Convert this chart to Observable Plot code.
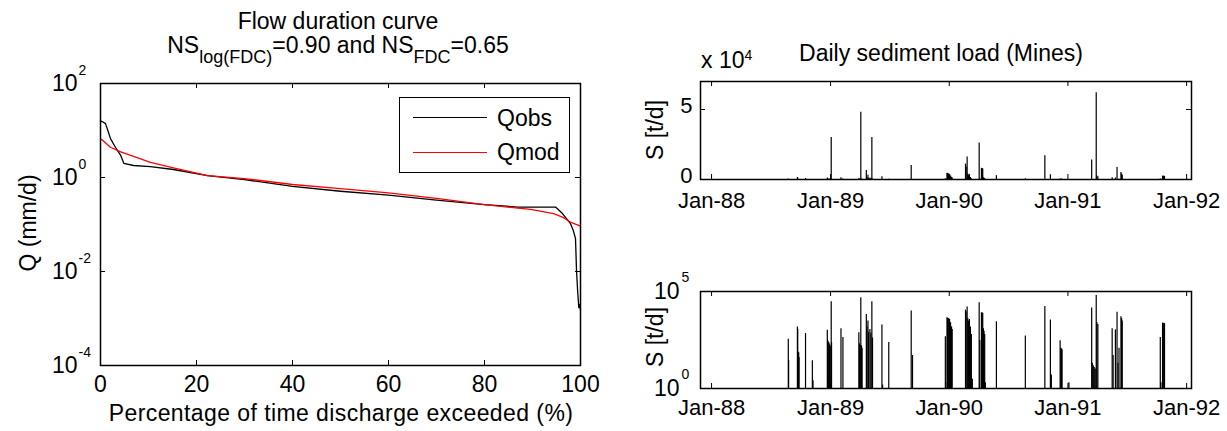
<!DOCTYPE html>
<html>
<head>
<meta charset="utf-8">
<script src="https://cdn.jsdelivr.net/npm/d3@7"></script>
<script src="https://cdn.jsdelivr.net/npm/@observablehq/plot@0.6"></script>
<style>
  body { margin: 0; background: #fff; }
  #wrap { position: relative; width: 1227px; height: 431px; overflow: hidden;
          font-family: "Liberation Sans", Arial, Helvetica, sans-serif; color: #000; background: #fff; }
  .t { position: absolute; white-space: nowrap; font-size: 23px; line-height: 23px; }
  .c { transform: translateX(-50%); }
  .rot { transform: translate(-50%, -50%) rotate(-90deg); }
  .sub { font-size: 18px; position: relative; top: 10px; }
  .sup { font-size: 14px; position: relative; top: -8px; }
  #legend { position: absolute; left: 399px; top: 97px; width: 169px; height: 74px;
            border: 1.5px solid #000; background: #fff; }
  .lg-line { position: absolute; left: 13px; width: 74px; height: 0; }
  .svgabs { position: absolute; }
</style>
</head>
<body>
<div id="wrap"></div>
<script>
// ---------------- Flow duration curve data ----------------
const fdcObsPct = [0, 0.35, 1.04, 1.6, 2.08, 3.1, 4.2, 4.85, 6.9, 10.4, 15.2, 22.3, 30, 40, 50, 60, 70, 80, 87, 94.8, 96.25, 97.9, 98.5, 98.96, 99.17, 99.4, 99.65, 99.8, 100];
const fdcObsQ   = [16, 15.5, 14, 9.5, 6.7, 4.4, 2.96, 2.0, 1.8, 1.71, 1.48, 1.1, 0.9, 0.65, 0.51, 0.42, 0.33, 0.265, 0.235, 0.235, 0.171, 0.105, 0.0745, 0.05, 0.0105, 0.0039, 0.0017, 0.002, 0.0015];
const fdcModPct = [0, 0.35, 2.08, 4.2, 6.9, 10.4, 15.2, 22.3, 30, 40, 50, 60, 70, 80, 87.5, 89.6, 94.4, 96.5, 97.9, 100];
const fdcModQ   = [6.6, 6.3, 4.4, 3.5, 2.8, 2.1, 1.6, 1.1, 0.95, 0.71, 0.58, 0.47, 0.36, 0.265, 0.22, 0.21, 0.17, 0.14, 0.112, 0.092];
const fdcXTicks = [0, 20, 40, 60, 80, 100];
const fdcYTicks = [1e2, 1e0, 1e-2, 1e-4];

// ---------------- Daily sediment load data (Mines) ----------------
const sedDates = [
  "1988-08-24","1988-08-25","1988-09-21","1988-09-22","1988-09-23","1988-09-24","1988-09-25","1988-09-26",
  "1988-10-16","1988-11-06","1988-11-08","1988-12-22","1988-12-23","1988-12-25","1988-12-27","1988-12-29",
  "1988-12-31","1989-01-03","1989-01-04","1989-02-02","1989-02-08","1989-03-29","1989-03-31","1989-04-02",
  "1989-04-04","1989-04-06","1989-04-08","1989-04-21","1989-04-23","1989-04-26","1989-04-28","1989-05-02",
  "1989-05-05","1989-05-08","1989-05-10","1989-06-08","1989-06-10","1989-06-29","1989-09-06","1989-09-10",
  "1989-12-20","1989-12-21","1989-12-25","1989-12-27","1989-12-29","1989-12-31","1990-01-02","1990-01-05",
  "1990-01-08","1990-01-10","1990-02-20","1990-02-22","1990-02-25","1990-02-27","1990-03-01","1990-03-04",
  "1990-03-07","1990-03-10","1990-03-13","1990-04-03","1990-04-05","1990-04-10","1990-04-12","1990-04-14",
  "1990-04-16","1990-04-18","1990-04-20","1990-04-22","1990-05-26","1990-08-23","1990-10-22","1990-11-08",
  "1990-11-11","1990-12-08","1990-12-10","1990-12-12","1990-12-14","1991-01-04","1991-03-15","1991-03-17",
  "1991-03-20","1991-03-23","1991-03-26","1991-03-29","1991-03-31","1991-04-03","1991-05-17","1991-05-20",
  "1991-05-27","1991-06-01","1991-06-04","1991-06-07","1991-06-13","1991-06-15","1991-06-17","1991-10-12",
  "1991-10-14","1991-10-19","1991-10-21","1991-10-23","1991-10-25"
];
const sedLoads = [
  350, 28, 1500, 1100, 75, 60, 70, 40,
  680, 27, 2.5, 1000, 300, 250, 220, 180,
  150, 30000, 230, 1200, 430, 750, 200, 160,
  48000, 160, 120, 6500, 1500, 3000, 800, 1100,
  700, 30000, 400, 1900, 1.5, 235, 10000, 50,
  460, 2, 4400, 4200, 4000, 3800, 3600, 2500,
  1500, 1100, 11000, 9000, 16000, 4000, 3000, 3600,
  1500, 600, 3, 26000, 300, 8000, 7800, 7500,
  1200, 900, 600, 2, 2750, 510, 17000, 3400,
  5, 290, 120, 110, 100, 2, 14000, 20,
  15, 12, 10, 62000, 2500, 2000, 1200, 50,
  1050, 8500, 20, 120, 5000, 4000, 3000, 430,
  2, 2350, 2300, 2250, 2200
];
const sedXDomain = ["1987-11-28", "1992-01-16"];
const yearTicks = ["1988-01-01", "1989-01-01", "1990-01-01", "1991-01-01", "1992-01-01"];
const linYTicks = [0, 50000];
const logYTicks = [1, 1e5];

// ---------------- helpers ----------------
const wrap = document.getElementById("wrap");
const FONT = '"Liberation Sans", Arial, Helvetica, sans-serif';
function addText(html, cls, left, top, extraStyle) {
  const d = document.createElement("div");
  d.className = "t " + cls;
  d.style.left = left + "px";
  d.style.top = top + "px";
  if (extraStyle) d.style.cssText += extraStyle;
  d.innerHTML = html;
  wrap.appendChild(d);
  return d;
}
function place(svg, left, top) {
  svg.classList.add("svgabs");
  svg.style.left = left + "px";
  svg.style.top = top + "px";
  wrap.appendChild(svg);
}
function inwardTicks(xTicks, yTicks, xAcc, yAcc, pw, ph, len) {
  return [
    Plot.tickX(xTicks, {x: xAcc, insetTop: ph - len, stroke: "#000", strokeWidth: 1}),
    Plot.tickX(xTicks, {x: xAcc, insetBottom: ph - len, stroke: "#000", strokeWidth: 1}),
    Plot.tickY(yTicks, {y: yAcc, insetRight: pw - len, stroke: "#000", strokeWidth: 1}),
    Plot.tickY(yTicks, {y: yAcc, insetLeft: pw - len, stroke: "#000", strokeWidth: 1})
  ];
}

// ---------------- Left: flow duration curve ----------------
const obs = fdcObsPct.map((p, i) => ({p, q: fdcObsQ[i]}));
const mod = fdcModPct.map((p, i) => ({p, q: fdcModQ[i]}));
{
  const W = 620, H = 431, mL = 100, mR = 40, mT = 83, mB = 66;
  const pw = W - mL - mR, ph = H - mT - mB;
  const svg = Plot.plot({
    width: W, height: H, marginLeft: mL, marginRight: mR, marginTop: mT, marginBottom: mB,
    style: {fontFamily: FONT, fontSize: "23px", color: "#000", background: "transparent", overflow: "visible"},
    x: {domain: [0, 100]},
    y: {type: "log", domain: [1e-4, 1e2]},
    marks: [
      Plot.line(obs, {x: "p", y: "q", stroke: "#000", strokeWidth: 1.3}),
      Plot.line(mod, {x: "p", y: "q", stroke: "#ff0000", strokeWidth: 1.3}),
      ...inwardTicks(fdcXTicks, fdcYTicks, d => d, d => d, pw, ph, 5),
      Plot.frame({stroke: "#000", strokeWidth: 1.5}),
      Plot.axisX({ticks: fdcXTicks, tickSize: 0, tickPadding: 10, label: null, fontSize: 23}),
      Plot.axisY({ticks: fdcYTicks, tickFormat: () => "10", tickSize: 0, tickPadding: 23, label: null, fontSize: 23}),
      Plot.text(fdcYTicks, {y: d => d, frameAnchor: "left", text: d => String(Math.round(Math.log10(d))),
        dx: -22, dy: -13, textAnchor: "start", fontSize: 14})
    ]
  });
  place(svg, 0, 0);
}
addText("Flow duration curve", "c", 338, 9.5);
addText('NS<span class="sub">log(FDC)</span>=0.90 and NS<span class="sub">FDC</span>=0.65', "c", 338, 34);
addText("Percentage of time discharge exceeded (%)", "c", 341, 401.5, "letter-spacing:0.42px;");
addText("Q (mm/d)", "rot", 28, 223);

// legend
{
  const lg = document.createElement("div");
  lg.id = "legend";
  lg.innerHTML =
    '<div class="lg-line" style="top:19px;border-top:1.5px solid #000"></div>' +
    '<div class="t" style="left:97px;top:9px">Qobs</div>' +
    '<div class="lg-line" style="top:54px;border-top:1.5px solid #ff0000"></div>' +
    '<div class="t" style="left:97px;top:43px">Qmod</div>';
  wrap.appendChild(lg);
}

// ---------------- Right: daily sediment load ----------------
const sed = sedDates.map((d, i) => ({date: new Date(d), load: sedLoads[i]}));
const xDom = sedXDomain.map(d => new Date(d));
const yTickDates = yearTicks.map(d => new Date(d));
const fmt = d3.utcFormat("%b-%y");

// top: linear
{
  const W = 607, H = 220, mL = 80, mR = 36, mT = 81, mB = 41;
  const pw = W - mL - mR, ph = H - mT - mB;
  const svg = Plot.plot({
    width: W, height: H, marginLeft: mL, marginRight: mR, marginTop: mT, marginBottom: mB,
    style: {fontFamily: FONT, fontSize: "22px", color: "#000", background: "transparent", overflow: "visible"},
    x: {type: "utc", domain: xDom},
    y: {domain: [0, 70000]},
    marks: [
      Plot.ruleX(sed, {x: "date", y1: 0, y2: "load", stroke: "#000", strokeWidth: 1.2}),
      ...inwardTicks(yTickDates, linYTicks, d => d, d => d, pw, ph, 5),
      Plot.frame({stroke: "#000", strokeWidth: 1.5}),
      Plot.axisX({ticks: yTickDates, tickFormat: fmt, tickSize: 0, tickPadding: 13, label: null, fontSize: 22}),
      Plot.axisY({ticks: linYTicks, tickFormat: d => String(d / 1e4), tickSize: 0, tickPadding: 8, label: null,
        fontSize: 22, dy: -4})
    ]
  });
  place(svg, 620, 0);
}
addText("Daily sediment load (Mines)", "c", 941, 41.5);
addText('x 10<span class="sup">4</span>', "", 701, 48.5);
addText("S [t/d]", "rot", 655, 130);

// bottom: log
{
  const W = 607, H = 211, mL = 80, mR = 36, mT = 71, mB = 43;
  const pw = W - mL - mR, ph = H - mT - mB;
  const svg = Plot.plot({
    width: W, height: H, marginLeft: mL, marginRight: mR, marginTop: mT, marginBottom: mB,
    style: {fontFamily: FONT, fontSize: "22px", color: "#000", background: "transparent", overflow: "visible"},
    x: {type: "utc", domain: xDom},
    y: {type: "log", domain: [1, 1e5], clamp: true},
    marks: [
      Plot.ruleX(sed, {x: "date", y1: 1, y2: "load", stroke: "#000", strokeWidth: 1.2}),
      ...inwardTicks(yTickDates, logYTicks, d => d, d => d, pw, ph, 5),
      Plot.frame({stroke: "#000", strokeWidth: 1.5}),
      Plot.axisX({ticks: yTickDates, tickFormat: fmt, tickSize: 0, tickPadding: 11, label: null, fontSize: 22}),
      Plot.axisY({ticks: logYTicks, tickFormat: () => "10", tickSize: 0, tickPadding: 21, label: null, fontSize: 23}),
      Plot.text(logYTicks, {y: d => d, frameAnchor: "left", text: d => String(Math.round(Math.log10(d))),
        dx: -19, dy: -14, textAnchor: "start", fontSize: 14})
    ]
  });
  place(svg, 620, 220);
}
addText("S [t/d]", "rot", 655, 337);
</script>
</body>
</html>
